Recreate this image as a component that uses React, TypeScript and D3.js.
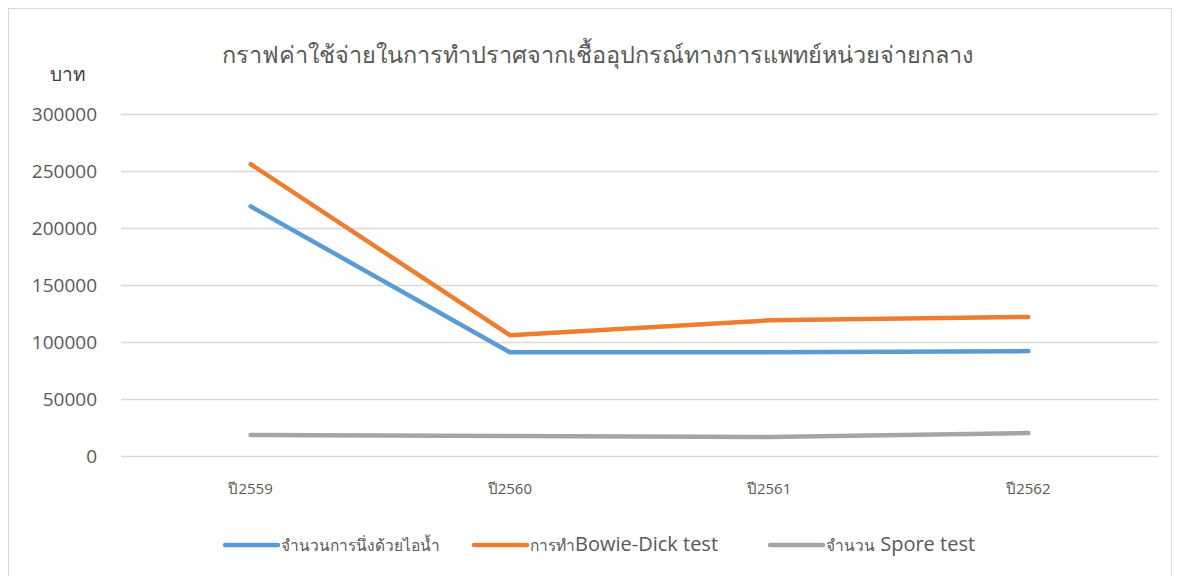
import * as React from "react";
import * as d3 from "d3";

const years = ["ปี2559", "ปี2560", "ปี2561", "ปี2562"];
const steamCount = [219000, 91000, 91000, 92000];
const bowieDick = [256000, 106000, 119000, 122000];
const sporeTest = [18500, 17500, 16700, 20200];
// legend names split into Thai part and Latin part (rendered at different sizes)
const seriesThai = ["จำนวนการนึ่งด้วยไอน้ำ", "การทำ", "จำนวน"];
const seriesLatin = ["", "Bowie-Dick test", " Spore test"];
const yTicks = [0, 50000, 100000, 150000, 200000, 250000, 300000];

const colors = ["#5b9bd5", "#ed7d31", "#a5a5a5"];
const W = 1180;
const H = 576;

function drawChart(svgRef: React.RefObject<SVGSVGElement>) {
  const svg = d3.select(svgRef.current);
  svg.selectAll("*").remove();
  svg.attr("width", W).attr("height", H);

  const font = "'Segoe UI', 'Open Sans', 'Noto Sans', sans-serif";

  // chart frame
  svg
    .append("rect")
    .attr("x", 8.5)
    .attr("y", 8.5)
    .attr("width", 1163)
    .attr("height", 600)
    .attr("fill", "#fff")
    .attr("stroke", "#d9d9d9");

  const x = d3.scaleBand().domain(years).range([121, 1158]);
  const y = d3.scaleLinear().domain([0, 300000]).range([456, 114]);

  // gridlines
  svg
    .append("g")
    .selectAll("line")
    .data(yTicks)
    .join("line")
    .attr("x1", 121)
    .attr("x2", 1158)
    .attr("y1", (d) => Math.round(y(d)) + 0.5)
    .attr("y2", (d) => Math.round(y(d)) + 0.5)
    .attr("stroke", "#d9d9d9")
    .attr("stroke-width", 1.3);

  // y tick labels
  svg
    .append("g")
    .selectAll("text")
    .data(yTicks)
    .join("text")
    .attr("x", 97)
    .attr("y", (d) => y(d))
    .attr("dy", "0.35em")
    .attr("text-anchor", "end")
    .attr("font-family", font)
    .attr("font-size", 19)
    .attr("fill", "#595959")
    .text((d) => String(d));

  // x tick labels
  svg
    .append("g")
    .selectAll("text")
    .data(years)
    .join("text")
    .attr("x", (d) => x(d)! + x.bandwidth() / 2)
    .attr("y", 494)
    .attr("text-anchor", "middle")
    .attr("font-family", font)
    .attr("font-size", 15)
    .attr("fill", "#595959")
    .text((d) => d);

  // title and unit
  svg
    .append("text")
    .attr("x", 597)
    .attr("y", 63)
    .attr("text-anchor", "middle")
    .attr("font-family", font)
    .attr("font-size", 23.5)
    .attr("fill", "#595959")
    .text("กราฟค่าใช้จ่ายในการทำปราศจากเชื้ออุปกรณ์ทางการแพทย์หน่วยจ่ายกลาง");

  svg
    .append("text")
    .attr("x", 68)
    .attr("y", 81)
    .attr("text-anchor", "middle")
    .attr("font-family", font)
    .attr("font-size", 19)
    .attr("fill", "#404040")
    .text("บาท");

  const series = [steamCount, bowieDick, sporeTest];
  const line = d3
    .line<number>()
    .x((_, i) => x(years[i])! + x.bandwidth() / 2)
    .y((d) => y(d));

  svg
    .append("g")
    .selectAll("path")
    .data(series)
    .join("path")
    .attr("d", (d) => line(d))
    .attr("fill", "none")
    .attr("stroke", (_, i) => colors[i])
    .attr("stroke-width", 4.5)
    .attr("stroke-linecap", "round")
    .attr("stroke-linejoin", "round");

  // legend
  const legendX = [225, 474, 770];
  const leg = svg
    .append("g")
    .selectAll("g")
    .data(seriesThai)
    .join("g")
    .attr("transform", (_, i) => `translate(${legendX[i]},545)`);
  leg
    .append("line")
    .attr("x1", 0)
    .attr("x2", 53)
    .attr("stroke", (_, i) => colors[i])
    .attr("stroke-width", 4.5)
    .attr("stroke-linecap", "round");
  const lt = leg
    .append("text")
    .attr("x", 56)
    .attr("dy", "0.35em")
    .attr("font-family", font)
    .attr("fill", "#595959");
  lt.append("tspan")
    .attr("font-size", 15.5)
    .text((d) => d);
  lt.append("tspan")
    .attr("font-size", 20)
    .text((_, i) => seriesLatin[i]);
}

const App: React.FunctionComponent = () => {
  const svg = React.useRef<SVGSVGElement>(null);
  React.useEffect(() => {
    drawChart(svg);
  }, [svg]);

  return (
    <div style={{ position: "absolute", left: 0, top: 0 }}>
      <svg ref={svg} style={{ display: "block" }} />
    </div>
  );
};

export default App;
